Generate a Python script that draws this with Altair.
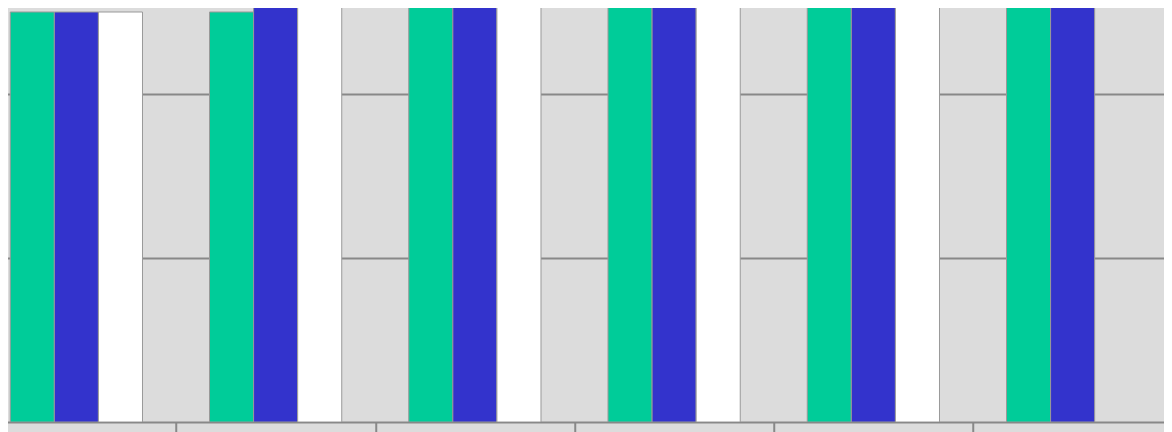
import altair as alt
import pandas as pd

categories = ["1", "2", "3", "4", "5", "6"]
series = ["Series 1", "Series 2", "Series 3"]
s1 = [2.5, 2.5, 3.0, 3.0, 3.0, 3.0]
s2 = [2.5, 3.0, 3.0, 3.0, 3.0, 3.0]
s3 = [2.5, 3.0, 3.0, 3.0, 3.0, None]
colors = ["#00CC99", "#3333CC", "#FFFFFF"]

rows = []
for name, vals in zip(series, [s1, s2, s3]):
    for c, v in zip(categories, vals):
        if v is not None:
            rows.append({"cat": c, "series": name, "value": v})
df = pd.DataFrame(rows)

chart = alt.Chart(df).mark_bar(stroke="#999999", strokeWidth=1, clip=True).encode(
    x=alt.X("cat:N", sort=categories,
            scale=alt.Scale(paddingInner=0, paddingOuter=0),
            axis=alt.Axis(title=None, tickBand="extent", domainColor="#888888", domainWidth=2,
                          tickColor="#888888", tickWidth=2, tickSize=12, grid=False,
                          labels=False)),
    xOffset=alt.XOffset("series:N", sort=series,
                        scale=alt.Scale(paddingOuter=0.76, paddingInner=0)),
    y=alt.Y("value:Q", scale=alt.Scale(domain=[0, 2.5244], nice=False, zero=True),
            axis=alt.Axis(title=None, values=[1, 2], grid=True, gridColor="#888888", gridWidth=2,
                          domain=False, ticks=False, labels=False)),
    color=alt.Color("series:N", sort=series, scale=alt.Scale(domain=series, range=colors), legend=None),
).properties(
    width=1195.5, height=414,
    padding={"left": -31.25, "top": 0, "right": -8.25, "bottom": 10},
    autosize=alt.AutoSizeParams(type="none"),
    background="#dcdcdc",
).configure_view(fill="#dcdcdc", stroke="transparent")

chart.save("out.html", embed_options={"renderer": "svg", "actions": False})
